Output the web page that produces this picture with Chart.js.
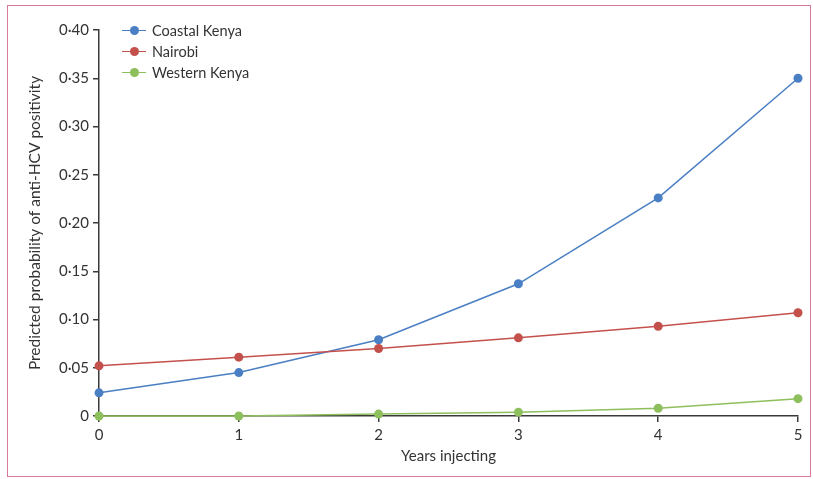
<!DOCTYPE html>
<html>
<head>
<meta charset="utf-8">
<script src="https://cdn.jsdelivr.net/npm/chart.js@4/dist/chart.umd.min.js"></script>
<style>
  html, body { margin: 0; padding: 0; background: #fff; }
  #wrap { position: relative; width: 813px; height: 479px; }
  #frame { position: absolute; left: 7px; top: 5px; width: 802px; height: 470px;
    border: 1.5px solid #d97a9c; pointer-events: none; }
  #legend { position: absolute; left: 122px; top: 20px; font: 14.5px Lato, sans-serif; color: #333; }
  .item { height: 21px; display: flex; align-items: center; }
  .sw { position: relative; width: 24px; height: 10px; margin-right: 6px; }
  .sw .ln { position: absolute; left: 0; right: 0; top: 4px; height: 1.5px; }
  .sw .dot { position: absolute; left: 8px; top: 0; width: 9px; height: 9px; border-radius: 50%; }
</style>
</head>
<body>
<div id="wrap">
  <canvas id="chart" width="813" height="479"></canvas>
  <div id="legend"></div>
  <div id="frame"></div>
</div>
<script>
// Predicted probability of anti-HCV positivity by years injecting, per region.
const years = ['0', '1', '2', '3', '4', '5'];
const coastal = [0.024, 0.045, 0.079, 0.137, 0.226, 0.350];
const nairobi = [0.052, 0.061, 0.070, 0.081, 0.093, 0.107];
const western = [0.000, 0.000, 0.002, 0.004, 0.008, 0.018];
const seriesNames = ['Coastal Kenya', 'Nairobi', 'Western Kenya'];
const seriesColors = ['#4a7fc3', '#c4504c', '#8dbf5c'];

const AXIS = '#3a3a3a';
const FONT = 'Lato, sans-serif';

const fmt = (v) => (v === 0 ? '0' : v.toFixed(2).replace('.', '\u00b7'));

const datasets = [coastal, nairobi, western].map((vals, i) => ({
  label: seriesNames[i],
  data: vals,
  borderColor: seriesColors[i],
  backgroundColor: seriesColors[i],
  borderWidth: 1.5,
  pointRadius: 4.5,
  pointHoverRadius: 4.5,
  pointBorderWidth: 0,
  tension: 0,
  clip: false,
}));

// HTML legend in the top-left corner of the plot
document.getElementById('legend').innerHTML = seriesNames
  .map((n, i) => `<div class="item"><span class="sw"><span class="ln" style="background:${seriesColors[i]}"></span>` +
    `<span class="dot" style="background:${seriesColors[i]}"></span></span>${n}</div>`)
  .join('');

new Chart(document.getElementById('chart'), {
  type: 'line',
  data: { labels: years, datasets: datasets.reverse() },
  options: {
    responsive: false,
    animation: false,
    layout: { padding: { top: 30, right: 15, left: 0, bottom: 10 } },
    plugins: { legend: { display: false }, tooltip: { enabled: false } },
    scales: {
      x: {
        offset: false,
        grid: { display: true, drawOnChartArea: false, drawTicks: true, tickLength: 6, color: AXIS, lineWidth: 1.5 },
        border: { color: AXIS, width: 1.5 },
        ticks: { color: '#333', font: { family: FONT, size: 15 }, padding: 4, maxRotation: 0 },
        title: { display: true, text: 'Years injecting', color: '#333', font: { family: FONT, size: 15 }, padding: { top: 2 } },
        afterFit: (s) => { s.height = 53; },
      },
      y: {
        min: 0, max: 0.4,
        grid: { display: true, drawOnChartArea: false, drawTicks: true, tickLength: 6, color: AXIS, lineWidth: 1.5 },
        border: { color: AXIS, width: 1.5 },
        ticks: { stepSize: 0.05, color: '#333', font: { family: FONT, size: 15 }, padding: 4, callback: (v) => fmt(v) },
        title: { display: true, text: 'Predicted probability of anti-HCV positivity', color: '#333',
          font: { family: FONT, size: 15.5 }, padding: { top: 26 } },
        afterFit: (s) => { s.width = 99; },
      },
    },
  },
});
</script>
</body>
</html>
